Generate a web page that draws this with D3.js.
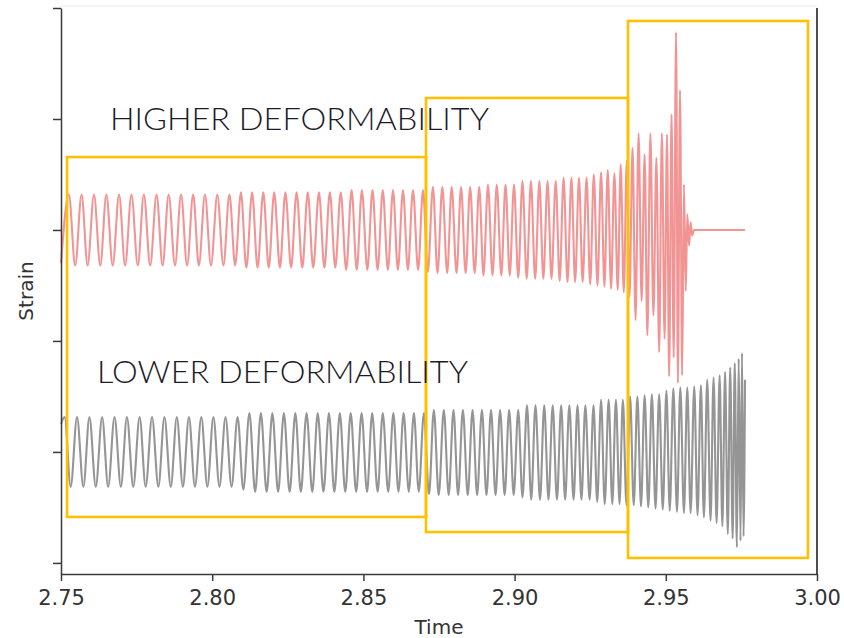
<!DOCTYPE html>
<html>
<head>
<meta charset="utf-8">
<script src="https://cdn.jsdelivr.net/npm/d3@7"></script>
<style>
  body { margin: 0; background: #fff; }
  #graph { display: block; }
  .wave { fill: none; stroke-linejoin: round; }
  .axis text { font-family: "DejaVu Sans", sans-serif; fill: #333; }
  .axis path, .axis line { stroke: #3a3a3a; stroke-width: 1.5; }
</style>
</head>
<body>
<svg id="graph" width="844" height="638"></svg>
<script>
// tick values on the time axis
const timeTicks = [2.75, 2.80, 2.85, 2.90, 2.95, 3.00];
// unlabelled strain ticks
const strainTicks = [-2, -1, 0, 1, 2, 3];

// higher deformability waveform, peaks and troughs [time, strain]
const redWave = [
  [2.7500, 0.70], [2.7526, 1.32], [2.7547, 0.68], [2.7568, 1.32], [2.7588, 0.68], [2.7609, 1.32],
  [2.7630, 0.68], [2.7650, 1.32], [2.7671, 0.68], [2.7692, 1.32], [2.7712, 0.68], [2.7733, 1.32],
  [2.7754, 0.68], [2.7774, 1.32], [2.7795, 0.68], [2.7816, 1.32], [2.7836, 0.68], [2.7856, 1.32],
  [2.7877, 0.68], [2.7897, 1.32], [2.7917, 0.68], [2.7937, 1.32], [2.7956, 0.68], [2.7976, 1.32],
  [2.7996, 0.68], [2.8017, 1.32], [2.8037, 0.68], [2.8057, 1.32], [2.8076, 0.68], [2.8095, 1.34],
  [2.8113, 0.66], [2.8132, 1.34], [2.8150, 0.66], [2.8169, 1.34], [2.8187, 0.66], [2.8205, 1.34],
  [2.8224, 0.66], [2.8242, 1.34], [2.8261, 0.66], [2.8279, 1.34], [2.8298, 0.66], [2.8316, 1.34],
  [2.8334, 0.66], [2.8353, 1.34], [2.8371, 0.66], [2.8389, 1.34], [2.8407, 0.66], [2.8425, 1.34],
  [2.8443, 0.64], [2.8461, 1.36], [2.8478, 0.64], [2.8495, 1.36], [2.8513, 0.64], [2.8530, 1.36],
  [2.8547, 0.64], [2.8564, 1.36], [2.8581, 0.64], [2.8598, 1.36], [2.8614, 0.64], [2.8631, 1.36],
  [2.8647, 0.64], [2.8664, 1.36], [2.8681, 0.64], [2.8697, 1.36], [2.8713, 0.62], [2.8730, 1.39],
  [2.8745, 0.61], [2.8761, 1.39], [2.8777, 0.61], [2.8792, 1.39], [2.8808, 0.61], [2.8823, 1.39],
  [2.8838, 0.61], [2.8853, 1.39], [2.8868, 0.61], [2.8883, 1.39], [2.8897, 0.59], [2.8912, 1.41],
  [2.8927, 0.59], [2.8941, 1.41], [2.8956, 0.59], [2.8970, 1.41], [2.8984, 0.59], [2.8998, 1.41],
  [2.9012, 0.57], [2.9026, 1.44], [2.9040, 0.56], [2.9054, 1.44], [2.9068, 0.56], [2.9082, 1.44],
  [2.9095, 0.56], [2.9109, 1.44], [2.9122, 0.56], [2.9136, 1.44], [2.9149, 0.54], [2.9162, 1.47],
  [2.9175, 0.53], [2.9188, 1.47], [2.9200, 0.53], [2.9213, 1.47], [2.9225, 0.53], [2.9238, 1.47],
  [2.9250, 0.51], [2.9262, 1.50], [2.9274, 0.50], [2.9286, 1.52], [2.9297, 0.49], [2.9308, 1.54],
  [2.9319, 0.47], [2.9330, 1.51], [2.9341, 0.46], [2.9351, 1.59], [2.9361, 0.44], [2.9371, 1.62],
  [2.9380, 0.40], [2.9390, 1.74], [2.9400, 0.19], [2.9410, 1.87], [2.9420, 0.36], [2.9430, 1.68],
  [2.9439, 0.05], [2.9449, 1.87], [2.9459, 0.23], [2.9469, 1.65], [2.9478, -0.10], [2.9487, 1.87],
  [2.9496, 0.02], [2.9504, 1.86], [2.9511, -0.32], [2.9519, 2.04], [2.9526, -0.15], [2.9534, 2.78],
  [2.9540, -0.38], [2.9547, 2.26], [2.9554, -0.31], [2.9560, 1.41], [2.9566, 0.45], [2.9571, 1.14],
  [2.9577, 0.86], [2.9582, 1.07], [2.9587, 0.95], [2.9593, 1.00], [2.9762, 1.00]
];

// lower deformability waveform [time, strain]
const grayWave = [
  [2.7500, -0.75], [2.7512, -0.685], [2.7532, -1.315], [2.7553, -0.685], [2.7574, -1.315], [2.7594, -0.685],
  [2.7615, -1.315], [2.7636, -0.685], [2.7656, -1.315], [2.7677, -0.685], [2.7698, -1.315], [2.7718, -0.685],
  [2.7739, -1.315], [2.7760, -0.685], [2.7780, -1.315], [2.7801, -0.685], [2.7822, -1.315], [2.7842, -0.685],
  [2.7863, -1.315], [2.7883, -0.685], [2.7903, -1.315], [2.7923, -0.685], [2.7943, -1.315], [2.7964, -0.685],
  [2.7984, -1.315], [2.8004, -0.685], [2.8024, -1.315], [2.8044, -0.685], [2.8064, -1.315], [2.8084, -0.685],
  [2.8103, -1.34], [2.8123, -0.65], [2.8142, -1.36], [2.8161, -0.65], [2.8180, -1.36], [2.8199, -0.65],
  [2.8218, -1.36], [2.8237, -0.65], [2.8256, -1.36], [2.8275, -0.65], [2.8293, -1.36], [2.8312, -0.65],
  [2.8331, -1.36], [2.8349, -0.65], [2.8368, -1.36], [2.8386, -0.65], [2.8404, -1.36], [2.8422, -0.65],
  [2.8440, -1.36], [2.8458, -0.65], [2.8476, -1.36], [2.8494, -0.65], [2.8512, -1.36], [2.8529, -0.65],
  [2.8547, -1.36], [2.8564, -0.65], [2.8582, -1.36], [2.8599, -0.65], [2.8616, -1.36], [2.8633, -0.65],
  [2.8650, -1.36], [2.8667, -0.65], [2.8683, -1.36], [2.8700, -0.65], [2.8717, -1.38], [2.8733, -0.62],
  [2.8749, -1.39], [2.8766, -0.62], [2.8782, -1.39], [2.8798, -0.62], [2.8813, -1.39], [2.8829, -0.62],
  [2.8845, -1.39], [2.8861, -0.62], [2.8876, -1.39], [2.8892, -0.62], [2.8907, -1.39], [2.8922, -0.62],
  [2.8937, -1.39], [2.8952, -0.62], [2.8967, -1.39], [2.8982, -0.62], [2.8997, -1.39], [2.9012, -0.62],
  [2.9026, -1.41], [2.9041, -0.58], [2.9055, -1.43], [2.9069, -0.58], [2.9084, -1.43], [2.9098, -0.58],
  [2.9112, -1.43], [2.9126, -0.58], [2.9140, -1.43], [2.9154, -0.58], [2.9167, -1.43], [2.9181, -0.58],
  [2.9195, -1.43], [2.9208, -0.58], [2.9221, -1.43], [2.9234, -0.58], [2.9248, -1.43], [2.9261, -0.58],
  [2.9273, -1.45], [2.9286, -0.53], [2.9298, -1.47], [2.9311, -0.53], [2.9323, -1.47], [2.9335, -0.53],
  [2.9347, -1.47], [2.9358, -0.53], [2.9370, -1.48], [2.9382, -0.50], [2.9394, -1.48], [2.9406, -0.50],
  [2.9418, -1.49], [2.9430, -0.49], [2.9442, -1.50], [2.9454, -0.48], [2.9466, -1.51], [2.9478, -0.48],
  [2.9490, -1.52], [2.9502, -0.45], [2.9513, -1.53], [2.9525, -0.43], [2.9537, -1.54], [2.9548, -0.42],
  [2.9560, -1.55], [2.9571, -0.42], [2.9582, -1.55], [2.9594, -0.41], [2.9605, -1.57], [2.9616, -0.40],
  [2.9626, -1.59], [2.9637, -0.35], [2.9648, -1.62], [2.9658, -0.33], [2.9668, -1.64], [2.9678, -0.31],
  [2.9687, -1.67], [2.9696, -0.28], [2.9705, -1.74], [2.9713, -0.24], [2.9721, -1.78], [2.9728, -0.20],
  [2.9735, -1.86], [2.9741, -0.16], [2.9747, -1.80], [2.9752, -0.11], [2.9757, -1.76], [2.9762, -0.35]
];

// highlighted phases [t0, t1, strainTop, strainBottom]
const phaseBoxes = [
  [2.7520, 2.8707, 1.657, -1.586],
  [2.8707, 2.9375, 2.189, -1.722],
  [2.9375, 2.9970, 2.883, -1.955]
];

// annotation labels [text, time, strain, width]
const waveLabels = [
  ["HIGHER DEFORMABILITY", 2.7662, 1.901, 379],
  ["LOWER DEFORMABILITY", 2.7619, -0.379, 371]
];

let svg = d3.select("#graph");

let xScale = d3.scaleLinear().domain([2.75, 3.00]).range([61, 817]);
let yScale = d3.scaleLinear().domain([-2.1, 3.0]).range([574, 8]);

drawWave(redWave, "#f29494", 2.1);
drawWave(grayWave, "#959595", 2.1);

drawAxes();
drawBoxes();
drawLabels();

function drawWave(wave, strokeColor, width)
{
    let lineGenerator = d3.line()
    .x((d) => xScale(d[0]))
    .y((d) => yScale(d[1]))
    .curve(d3.curveMonotoneX);

    svg.append("path")
    .attr("class", "wave")
    .attr("d", lineGenerator(wave))
    .attr("stroke", strokeColor)
    .attr("stroke-width", width);
}

function drawAxes()
{
    //faint top edge
    svg.append("line")
    .attr("x1", xScale.range()[0]).attr("x2", xScale.range()[1])
    .attr("y1", 6).attr("y2", 6)
    .attr("stroke", "#ececec")
    .attr("stroke-width", 1);

    svg.append("g")
    .attr("class", "axis")
    .attr("transform", "translate(0," + yScale.range()[0] + ")")
    .call(d3.axisBottom(xScale)
        .tickValues(timeTicks)
        .tickFormat(d3.format(".2f"))
        .tickSize(7)
        .tickSizeOuter(0)
        .tickPadding(9))
    .selectAll("text")
    .style("font-size", "21px");

    svg.append("g")
    .attr("class", "axis")
    .attr("transform", "translate(" + xScale.range()[0] + ",0)")
    .call(d3.axisLeft(yScale)
        .tickValues(strainTicks)
        .tickFormat("")
        .tickSize(8)
        .tickSizeOuter(0));

    //right spine
    svg.append("line")
    .attr("x1", xScale.range()[1]).attr("x2", xScale.range()[1])
    .attr("y1", yScale.range()[1]).attr("y2", yScale.range()[0])
    .attr("stroke", "#3a3a3a")
    .attr("stroke-width", 1.8);

    svg.append("text")
    .attr("x", (xScale.range()[0] + xScale.range()[1]) / 2)
    .attr("y", 634)
    .attr("text-anchor", "middle")
    .style("font-family", "DejaVu Sans, sans-serif")
    .style("font-size", "20px")
    .style("fill", "#333")
    .text("Time");

    svg.append("text")
    .attr("transform", "translate(33," + (yScale.range()[0] + yScale.range()[1]) / 2 + ") rotate(-90)")
    .attr("text-anchor", "middle")
    .style("font-family", "DejaVu Sans, sans-serif")
    .style("font-size", "20px")
    .style("fill", "#333")
    .text("Strain");
}

function drawBoxes()
{
    svg.selectAll()
    .data(phaseBoxes)
    .enter()
    .append("rect")
    .attr("x", (d) => xScale(d[0]))
    .attr("y", (d) => yScale(d[2]))
    .attr("width", (d) => xScale(d[1]) - xScale(d[0]))
    .attr("height", (d) => yScale(d[3]) - yScale(d[2]))
    .attr("fill", "none")
    .attr("stroke", "#ffc000")
    .attr("stroke-width", 2.6);
}

function drawLabels()
{
    svg.selectAll()
    .data(waveLabels)
    .enter()
    .append("text")
    .attr("x", (d) => xScale(d[1]))
    .attr("y", (d) => yScale(d[2]))
    .attr("textLength", (d) => d[3])
    .attr("lengthAdjust", "spacingAndGlyphs")
    .style("font-family", "Lato, 'Open Sans', sans-serif")
    .style("font-weight", "300")
    .style("font-size", "31px")
    .style("fill", "#1c1c28")
    .text((d) => d[0]);
}
</script>
</body>
</html>
